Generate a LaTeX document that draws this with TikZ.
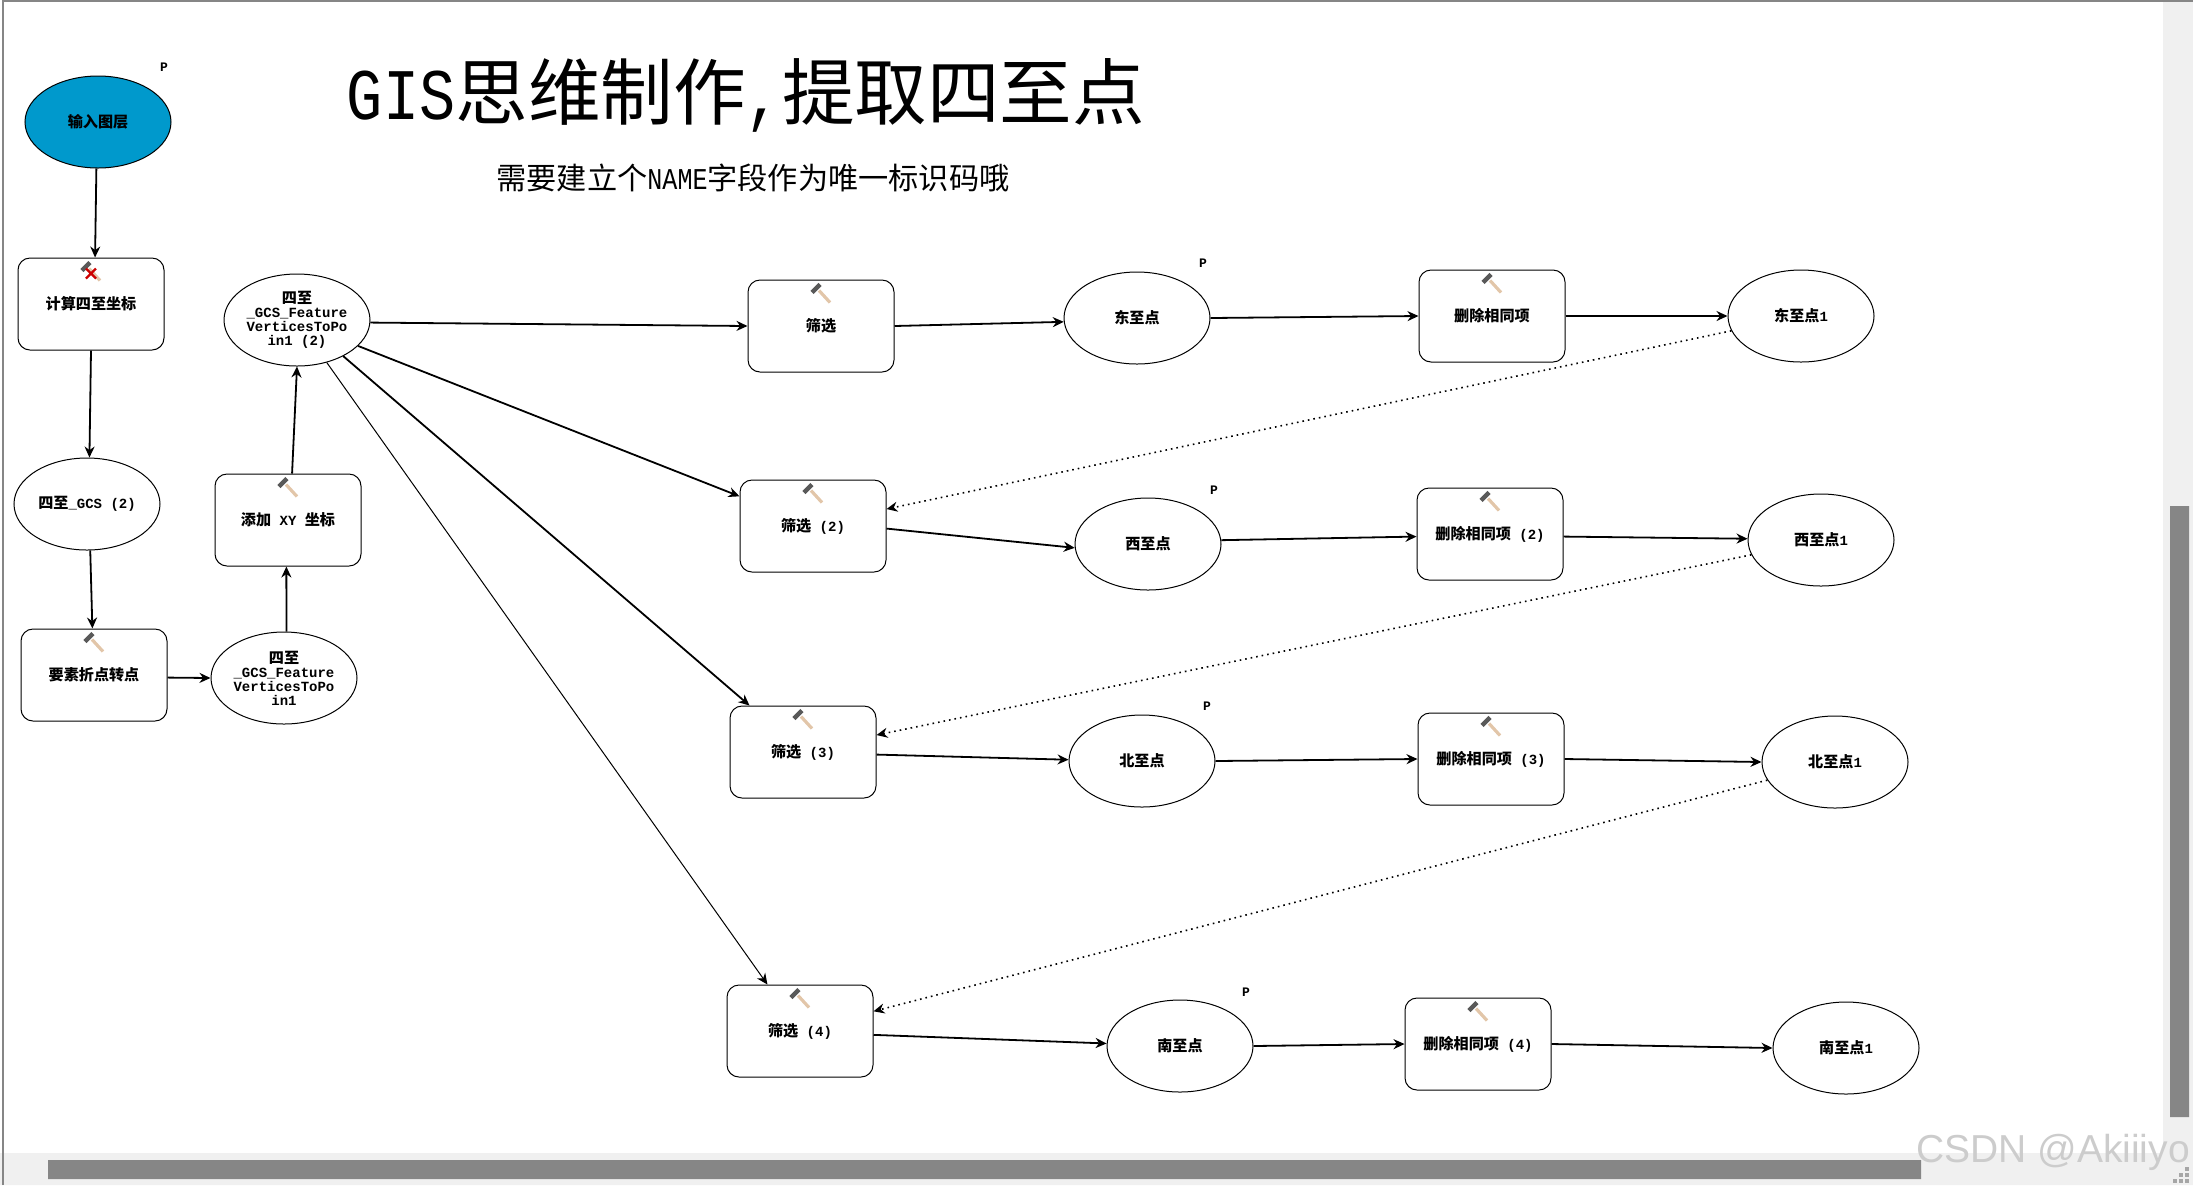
\documentclass[tikz,border=0pt]{standalone}
\usepackage{fontspec}
\setmainfont{Liberation Mono}
\newfontfamily\narrowmono[FakeStretch=0.83]{Liberation Mono}
\newfontfamily\cjktitle{Noto Sans CJK SC}
\newfontfamily\cjk[Scale=1.08]{Noto Sans CJK SC}
\newfontfamily\wmfont{Liberation Sans}
\usetikzlibrary{shapes.geometric,arrows.meta}
\definecolor{inputblue}{HTML}{0099CC}
\definecolor{barbg}{HTML}{F0F0F0}
\definecolor{barfg}{HTML}{868686}
\newcommand{\modelfont}{\fontsize{7}{7}\selectfont\bfseries}
\tikzset{
	modelbox/.style={draw,rounded corners=6pt,minimum width=73pt,minimum height=46pt,inner sep=0pt,align=center,line width=0.5pt,font=\modelfont},
	modeloval/.style={draw,ellipse,minimum width=73pt,minimum height=46pt,inner sep=0pt,align=center,line width=0.5pt,font=\modelfont},
	ptag/.style={font=\fontsize{6.5}{6.5}\selectfont\bfseries,inner sep=0pt},
	flow/.style={->,line width=0.9pt},
	thinflow/.style={->,line width=0.5pt},
	backflow/.style={->,line width=0.8pt,dotted},
	hammer/.pic={
		\draw[line width=1.6pt,color=brown!45!white] (-2,-2)--(9,10);
		\draw[line width=2.2pt,color=black!65] (-9,0)--(-1,-8);
	}
}
\begin{document}
\begin{tikzpicture}[x=0.5pt,y=-0.5pt,>={Stealth[length=5.5pt,width=5pt]}]
	\useasboundingbox (0,0) rectangle (2193,1185);
	% window frame
	\fill[barbg] (0,1153) rectangle (2193,1185) (2163,0) rectangle (2193,1185);
	\fill[barfg] (48,1160) rectangle (1921,1179) (2170,506) rectangle (2189,1117);
	\draw[barfg,line width=1pt] (3,1185)--(3,1)--(2193,1);
	\foreach \gx/\gy in {2187/1169,2187/1175,2187/1181,2181/1175,2181/1181,2175/1181}
		\fill[black!35] (\gx-2,\gy-2) rectangle (\gx+2,\gy+2);
	% titles
	\node[inner sep=0pt] (title) at (746,95) {\fontsize{36.3}{36.3}\selectfont{\narrowmono GIS}{\cjktitle 思维制作}{\narrowmono ,}{\cjktitle 提取四至点}};
	\node[inner sep=0pt] (subtitle) at (753,178) {\fontsize{15.1}{15.1}\selectfont{\cjktitle 需要建立个}{\narrowmono NAME}{\cjktitle 字段作为唯一标识码哦}};
	% left column
	\node[modeloval,fill=inputblue] (input) at (98,122) {\cjk 输入图层};
	\node[modelbox] (calc) at (91,304) {\cjk 计算四至坐标};
	\node[modeloval] (gcs) at (87,504) {{\cjk 四至}\_GCS (2)};
	\node[modelbox] (vertex) at (94,675) {\cjk 要素折点转点};
	\node[modeloval] (pointa) at (284,678) {{\cjk 四至}\\\_GCS\_Feature\\VerticesToPo\\in1};
	\node[modelbox] (addxy) at (288,520) {{\cjk 添加} XY {\cjk 坐标}};
	\node[modeloval] (pointb) at (297,320) {{\cjk 四至}\\\_GCS\_Feature\\VerticesToPo\\in1 (2)};
	% select boxes
	\node[modelbox] (sela) at (821,326) {\cjk 筛选};
	\node[modelbox] (selb) at (813,526) {{\cjk 筛选} (2)};
	\node[modelbox] (selc) at (803,752) {{\cjk 筛选} (3)};
	\node[modelbox] (seld) at (800,1031) {{\cjk 筛选} (4)};
	% output points
	\node[modeloval] (east) at (1137,318) {\cjk 东至点};
	\node[modeloval] (west) at (1148,544) {\cjk 西至点};
	\node[modeloval] (north) at (1142,761) {\cjk 北至点};
	\node[modeloval] (south) at (1180,1046) {\cjk 南至点};
	% delete identical
	\node[modelbox] (dela) at (1492,316) {\cjk 删除相同项};
	\node[modelbox] (delb) at (1490,534) {{\cjk 删除相同项} (2)};
	\node[modelbox] (delc) at (1491,759) {{\cjk 删除相同项} (3)};
	\node[modelbox] (deld) at (1478,1044) {{\cjk 删除相同项} (4)};
	% final points
	\node[modeloval] (easta) at (1801,316) {{\cjk 东至点}1};
	\node[modeloval] (westa) at (1821,540) {{\cjk 西至点}1};
	\node[modeloval] (northa) at (1835,762) {{\cjk 北至点}1};
	\node[modeloval] (southa) at (1846,1048) {{\cjk 南至点}1};
	% P tags
	\node[ptag] (pinput) at (164,67) {P};
	\node[ptag] (peast) at (1203,263) {P};
	\node[ptag] (pwest) at (1214,490) {P};
	\node[ptag] (pnorth) at (1207,706) {P};
	\node[ptag] (psouth) at (1246,992) {P};
	% hammers
	\foreach \n in {calc,vertex,addxy,sela,selb,selc,seld,dela,delb,delc,deld}
		\pic at ([yshift=-6.5pt]\n.north) {hammer};
	\draw[red!80!black,line width=1.2pt] ([shift={(-5,11)}]calc.north)--([shift={(5,21)}]calc.north) ([shift={(-5,21)}]calc.north)--([shift={(5,11)}]calc.north);
	% left connectors
	\draw[flow] (input.-92)--(calc.85);
	\draw[flow] (calc.south)--(gcs.87);
	\draw[flow] (gcs.-86)--(vertex.92);
	\draw[flow] (vertex.-2)--(pointa.west);
	\draw[flow] (pointa.87)--(addxy.-92);
	\draw[flow] (addxy.85)--(pointb.south);
	% fan out
	\draw[flow] (pointb.-2)--(sela.west);
	\draw[flow] (pointb.-23)--(selb.158);
	\draw[flow] (pointb.-38)--(selc.139);
	\draw[thinflow] (pointb.-55)--(seld.125);
	% rows
	\draw[flow] (sela.east)--(east.183);
	\draw[flow] (east.east)--(dela.west);
	\draw[flow] (dela.east)--(easta.west);
	\draw[flow] (selb.-2)--(west.183);
	\draw[flow] (west.3)--(delb.182);
	\draw[flow] (delb.-2)--(westa.179);
	\draw[flow] (selc.-2)--(north.179);
	\draw[flow] (north.east)--(delc.west);
	\draw[flow] (delc.east)--(northa.west);
	\draw[flow] (seld.-3)--(south.178);
	\draw[flow] (south.east)--(deld.west);
	\draw[flow] (deld.east)--(southa.west);
	% back links
	\draw[backflow] (easta.192)--(selb.13);
	\draw[backflow] (westa.192)--(selc.13);
	\draw[backflow] (northa.195)--(seld.15);
	% watermark
	\node[inner sep=0pt,text=black!20] (mark) at (2053,1152) {\wmfont\fontsize{19.5}{19.5}\selectfont CSDN @Akiiiyo};
\end{tikzpicture}
\end{document}
